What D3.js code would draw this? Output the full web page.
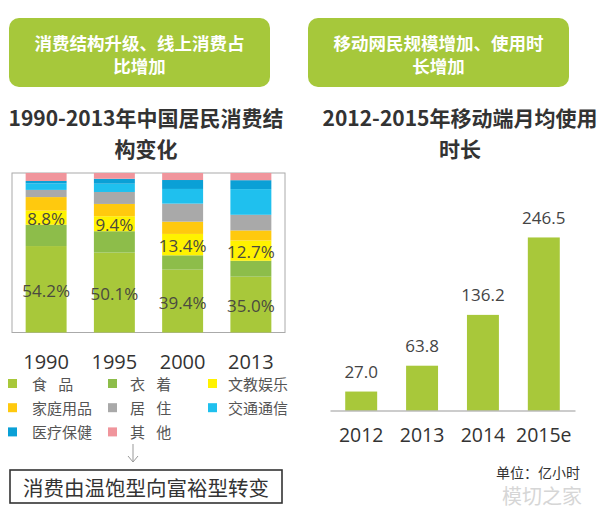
<!DOCTYPE html>
<html><head><meta charset="utf-8">
<script src="https://cdn.jsdelivr.net/npm/d3@7"></script>
<style>
body{margin:0;background:#fff;}
svg{display:block;}
</style></head>
<body>
<svg id="c" width="600" height="512"></svg>
<script>
// ---------- data ----------
const years = ["1990", "1995", "2000", "2013"];
const seriesNames = ["食 品", "衣 着", "文教娱乐", "家庭用品", "居 住", "交通通信", "医疗保健", "其 他"];
const seriesColors = ["#a8c83a", "#8dbd4a", "#fff200", "#ffc90e", "#a9a9a9", "#1fc0ee", "#0aa0d6", "#f0959c"];
const food      = [54.2, 50.1, 39.4, 35.0];
const clothing  = [13.4, 13.4, 9.0, 10.0];
const education = [8.8, 9.4, 13.4, 12.7];
const household = [8.5, 7.7, 7.7, 6.3];
const housing   = [4.5, 7.5, 11.3, 9.8];
const transport = [4.1, 5.2, 9.2, 16.1];
const medical   = [1.5, 3.1, 5.6, 5.6];
const other     = [5.0, 3.6, 4.4, 4.5];
const labeledSeries = [0, 2];

const mobileYears = ["2012", "2013", "2014", "2015e"];
const mobileHours = [27.0, 63.8, 136.2, 246.5];

const leftBoxText = ["消费结构升级、线上消费占", "比增加"];
const rightBoxText = ["移动网民规模增加、使用时", "长增加"];
const leftTitle = ["1990-2013年中国居民消费结", "构变化"];
const rightTitle = ["2012-2015年移动端月均使用", "时长"];
const conclusion = "消费由温饱型向富裕型转变";
const unitNote = "单位：亿小时";
const watermark = "模切之家";

// ---------- drawing ----------
const svg = d3.select("#c");
const CJK = "'Noto Sans CJK SC','Noto Sans',sans-serif";
const NUM = "'Open Sans','Noto Sans',sans-serif";

// title boxes
function box(x, lines) {
  svg.append("rect").attr("x", x).attr("y", 18).attr("width", 261).attr("height", 69)
    .attr("rx", 10).attr("fill", "#a6c83b");
  lines.forEach((t, i) => svg.append("text").attr("x", x + 130.5).attr("y", 42 + i * 23.5)
    .attr("text-anchor", "middle").attr("dominant-baseline", "central")
    .attr("font-family", CJK).attr("font-weight", "bold").attr("font-size", 17.5)
    .attr("fill", "#fff").text(t));
}
box(9, leftBoxText);
box(308, rightBoxText);

function title(cx, lines) {
  lines.forEach((t, i) => svg.append("text").attr("x", cx).attr("y", 117 + i * 31)
    .attr("text-anchor", "middle").attr("dominant-baseline", "central")
    .attr("font-family", CJK).attr("font-weight", "bold").attr("font-size", 21)
    .attr("fill", "#333").text(t));
}
title(146, leftTitle);
title(460, rightTitle);

// ---------- stacked chart ----------
const seriesData = [food, clothing, education, household, housing, transport, medical, other];
const rows = years.map((y, i) => {
  const o = {year: y};
  seriesNames.forEach((n, k) => o[n] = seriesData[k][i]);
  return o;
});
const stack = d3.stack().keys(seriesNames)(rows);

const fx = d3.scaleBand().domain(years).range([12, 285]).paddingInner(0.4).paddingOuter(0.2);
const fy = d3.scaleLinear().domain([0, 100]).range([332.5, 173]);

svg.append("rect").attr("x", 12).attr("y", 173).attr("width", 273).attr("height", 159.5)
  .attr("fill", "none").attr("stroke", "#aaa").attr("stroke-width", 1);

const g = svg.append("g");
stack.forEach((s, k) => {
  g.selectAll(null).data(s).enter().append("rect")
    .attr("x", d => fx(d.data.year)).attr("width", fx.bandwidth())
    .attr("y", d => fy(d[1])).attr("height", d => fy(d[0]) - fy(d[1]))
    .attr("fill", seriesColors[k]);
});
labeledSeries.forEach(k => {
  g.selectAll(null).data(stack[k]).enter().append("text")
    .attr("x", d => fx(d.data.year) + fx.bandwidth() / 2)
    .attr("y", d => (fy(d[0]) + fy(d[1])) / 2 + 1)
    .attr("text-anchor", "middle").attr("dominant-baseline", "central")
    .attr("font-family", NUM).attr("font-size", 17).attr("fill", "#4a4a40")
    .text((d, i) => seriesData[k][i].toFixed(1) + "%");
});

// year axis
const ax = svg.append("g").attr("transform", "translate(0,355)")
  .call(d3.axisBottom(fx).tickSize(0).tickPadding(0));
ax.select(".domain").remove();
ax.selectAll("text").attr("font-family", NUM).attr("font-size", 20).attr("fill", "#333")
  .attr("dy", "0.71em");

// legend
const legendCols = [8, 108, 208];
const legendTextX = [32, 130, 228];
seriesNames.forEach((n, k) => {
  const col = k % 3, row = Math.floor(k / 3);
  const cy = 383.5 + row * 24.2;
  svg.append("rect").attr("x", legendCols[col]).attr("y", cy - 4.5).attr("width", 9).attr("height", 9)
    .attr("fill", seriesColors[k]);
  svg.append("text").attr("x", legendTextX[col]).attr("y", cy)
    .attr("dominant-baseline", "central").attr("font-family", CJK).attr("font-size", 15)
    .attr("fill", "#555").attr("word-spacing", n.includes(" ") ? 8 : 0).text(n);
});

// arrow
svg.append("line").attr("x1", 133).attr("x2", 133).attr("y1", 444).attr("y2", 462)
  .attr("stroke", "#999").attr("stroke-width", 1);
svg.append("path").attr("d", "M128,456 L133,462 L138,456").attr("fill", "none")
  .attr("stroke", "#999").attr("stroke-width", 1);

// conclusion box
svg.append("rect").attr("x", 10).attr("y", 470).attr("width", 272).attr("height", 33)
  .attr("fill", "none").attr("stroke", "#333").attr("stroke-width", 1.6);
svg.append("text").attr("x", 146).attr("y", 487).attr("text-anchor", "middle")
  .attr("dominant-baseline", "central").attr("font-family", CJK).attr("font-size", 20.5)
  .attr("fill", "#333").text(conclusion);

// ---------- mobile usage chart ----------
const mx = d3.scaleBand().domain(mobileYears).range([330, 575]).paddingInner(0.475).paddingOuter(0.25);
const my = d3.scaleLinear().domain([0, 250]).range([410.5, 235]);

svg.append("g").selectAll(null).data(mobileHours).enter().append("rect")
  .attr("x", (d, i) => mx(mobileYears[i])).attr("width", mx.bandwidth())
  .attr("y", d => my(d)).attr("height", d => my(0) - my(d)).attr("fill", "#a8c83a");
svg.append("g").selectAll(null).data(mobileHours).enter().append("text")
  .attr("x", (d, i) => mx(mobileYears[i]) + mx.bandwidth() / 2)
  .attr("y", d => my(d) - 20).attr("text-anchor", "middle").attr("dominant-baseline", "central")
  .attr("font-family", NUM).attr("font-size", 17).attr("fill", "#444")
  .text(d => d.toFixed(1));

const bx = svg.append("g").attr("transform", "translate(0,410.5)")
  .call(d3.axisBottom(mx).tickSize(0).tickPadding(0));
bx.select(".domain").attr("stroke", "#999").attr("stroke-width", 1);
bx.selectAll("text").attr("font-family", NUM).attr("font-size", 19.5).attr("fill", "#333")
  .attr("dy", "0.71em").attr("y", 18);

// unit note + watermark
svg.append("text").attr("x", 580).attr("y", 472).attr("text-anchor", "end")
  .attr("dominant-baseline", "central").attr("font-family", CJK).attr("font-size", 14)
  .attr("fill", "#333").text(unitNote);
svg.append("text").attr("x", 582).attr("y", 495).attr("text-anchor", "end")
  .attr("dominant-baseline", "central").attr("font-family", CJK).attr("font-size", 20)
  .attr("fill", "#bbb").attr("opacity", 0.6).text(watermark);
</script>
</body></html>
